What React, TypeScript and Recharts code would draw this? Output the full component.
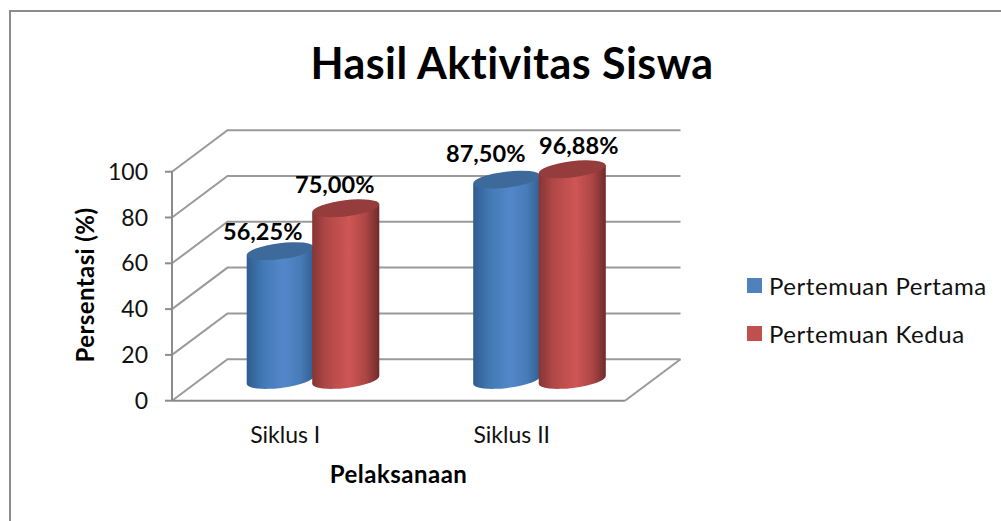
import React from "react";
import { BarChart, Bar, XAxis, YAxis, CartesianGrid, LabelList, Legend } from "recharts";

const categories = ["Siklus I", "Siklus II"];
const pertemuanPertama = [56.25, 87.5];
const pertemuanKedua = [75.0, 92];
const labelsPertama = ["56,25%", "87,50%"];
const labelsKedua = ["75,00%", "96,88%"];
const yTicks = [0, 20, 40, 60, 80, 100];
const seriesNames = ["Pertemuan Pertama", "Pertemuan Kedua"];

const rows = categories.map((name, i) => ({
  name,
  pertama: pertemuanPertama[i],
  kedua: pertemuanKedua[i],
}));

const FONT = "Lato, 'Open Sans', sans-serif";
const GRID = "#9a9a9a";
const AXIS = "#8c8c8c";
const DEPTH_X = 55.5;
const DEPTH_Y = 41.5;
const BAR_W = 67;
const TILT = 7;
const RY = 8;

const pertamaNudge = [{ dx: -17.5, dy: -20 }, { dx: -21, dy: -26.5 }];
const keduaNudge = [{ dx: -11, dy: -24.5 }, { dx: 6.5, dy: -24 }];

const Cylinder = (props: any) => {
  const { x, y, width, height, gradient, top } = props;
  const rx = width / 2 + 0.3;
  const cx = x + width / 2 + DEPTH_X / 2;
  const yTop = y - DEPTH_Y / 2;
  const yBot = y + height - DEPTH_Y / 2;
  const ex = rx * Math.cos((TILT * Math.PI) / 180);
  const ey = rx * Math.sin((TILT * Math.PI) / 180);
  const body = `M${cx - ex},${yBot + ey} L${cx - ex},${yTop + ey} L${cx + ex},${yTop - ey} L${cx + ex},${yBot - ey} A${rx},${RY} ${-TILT} 0 1 ${cx - ex},${yBot + ey} Z`;
  return (
    <g>
      <path d={body} fill={`url(#${gradient})`} />
      <ellipse cx={cx} cy={yTop} rx={rx} ry={RY} fill={top} transform={`rotate(${-TILT} ${cx} ${yTop})`} />
    </g>
  );
};

const barLabel = (nudges: { dx: number; dy: number }[], texts: string[]) => (p: any) => {
  const { x, y, width, index } = p;
  const n = nudges[index];
  return (
    <text
      x={x + width / 2 + DEPTH_X / 2 + n.dx}
      y={y - DEPTH_Y / 2 + n.dy}
      textAnchor="middle"
      dominantBaseline="central"
      fontFamily={FONT}
      fontWeight={700}
      fontSize={23.5}
      fill="#000"
    >
      {texts[index]}
    </text>
  );
};

const gridLine = (p: any) => {
  const { x1, x2, y1 } = p;
  const isFloor = Math.abs(y1 - 400.7) < 1;
  return (
    <g key={`g-${y1}`}>
      <polyline
        points={`${x1},${y1} ${x1 + DEPTH_X},${y1 - DEPTH_Y} ${x2 + DEPTH_X},${y1 - DEPTH_Y}`}
        fill="none"
        stroke={GRID}
        strokeWidth={2}
      />
      {isFloor && (
        <line x1={x2} y1={y1} x2={x2 + DEPTH_X} y2={y1 - DEPTH_Y} stroke={GRID} strokeWidth={2} />
      )}
    </g>
  );
};

const legendContent = () => (
  <div style={{ fontFamily: FONT, fontSize: 24, letterSpacing: 0.55, color: "#111", width: 254, position: "absolute", left: 0, top: 0 }}>
    {seriesNames.map((name, i) => (
      <div key={name} style={{ display: "flex", alignItems: "center", height: 48, whiteSpace: "nowrap" }}>
        <span
          style={{
            width: 15,
            height: 15,
            background: i === 0 ? "#4f81bd" : "#c0504d",
            marginRight: 7,
            display: "inline-block",
          }}
        />
        {name}
      </div>
    ))}
  </div>
);

export default function App() {
  return (
    <div style={{ position: "absolute", left: 0, top: 0, width: 1001, height: 521, background: "#fff", overflow: "hidden" }}>
      <div style={{ position: "absolute", left: 9, top: 10, width: 1100, height: 600, border: "2px solid #8c8c8c" }} />
      <div style={{ position: "absolute", left: 0, top: 0 }}>
        <BarChart
          width={1001}
          height={521}
          data={rows}
          margin={{ top: 171.7, bottom: 90.3, left: 112, right: 376 }}
          barSize={BAR_W}
          barGap={-1.5}
        >
          <defs>
            <linearGradient id="blueBody" x1="0" y1="0" x2="1" y2="0">
              <stop offset="0" stopColor="#2f5c90" />
              <stop offset="0.25" stopColor="#427ab5" />
              <stop offset="0.55" stopColor="#5387cb" />
              <stop offset="0.8" stopColor="#477cb8" />
              <stop offset="1" stopColor="#325f92" />
            </linearGradient>
            <linearGradient id="redBody" x1="0" y1="0" x2="1" y2="0">
              <stop offset="0" stopColor="#853534" />
              <stop offset="0.2" stopColor="#ae4746" />
              <stop offset="0.55" stopColor="#cf5654" />
              <stop offset="0.8" stopColor="#ab4645" />
              <stop offset="1" stopColor="#6f2a2a" />
            </linearGradient>
          </defs>
          <text x={512} y={62} textAnchor="middle" dominantBaseline="central" fontFamily={FONT} fontWeight={700} fontSize={43} letterSpacing={0.45} fill="#000">
            Hasil Aktivitas Siswa
          </text>
          <CartesianGrid vertical={false} horizontal={gridLine} />
          <XAxis
            dataKey="name"
            axisLine={{ stroke: AXIS, strokeWidth: 2 }}
            tickLine={false}
            tickMargin={20}
            tick={{ fontFamily: FONT, fontSize: 23, fill: "#111" }}
            label={{ value: "Pelaksanaan", position: "bottom", offset: 35, fontFamily: FONT, fontWeight: 700, fontSize: 24, letterSpacing: 0.5, fill: "#000" }}
          />
          <YAxis
            width={60}
            domain={[0, 100]}
            ticks={yTicks}
            interval={0}
            axisLine={{ stroke: AXIS, strokeWidth: 2 }}
            tickLine={{ stroke: AXIS, strokeWidth: 2 }}
            tickSize={7}
            tickMargin={17}
            tick={{ fontFamily: FONT, fontSize: 23, fill: "#111" }}
          />
          <text x={84} y={285} textAnchor="middle" dominantBaseline="central" transform="rotate(-90 84 285)" fontFamily={FONT} fontWeight={700} fontSize={24} letterSpacing={0.4} fill="#000">
            Persentasi (%)
          </text>
          <Legend content={legendContent} layout="vertical" wrapperStyle={{ position: "absolute", left: 747, top: 261, width: 0, height: 0 }} />
          <Bar dataKey="pertama" name={seriesNames[0]} fill="#4f81bd" isAnimationActive={false}
            shape={(p: any) => <Cylinder {...p} gradient="blueBody" top="#3e6a9b" />}>
            <LabelList dataKey="pertama" content={barLabel(pertamaNudge, labelsPertama)} />
          </Bar>
          <Bar dataKey="kedua" name={seriesNames[1]} fill="#c0504d" isAnimationActive={false}
            shape={(p: any) => <Cylinder {...p} gradient="redBody" top="#953d3c" />}>
            <LabelList dataKey="kedua" content={barLabel(keduaNudge, labelsKedua)} />
          </Bar>
        </BarChart>
      </div>
    </div>
  );
}
